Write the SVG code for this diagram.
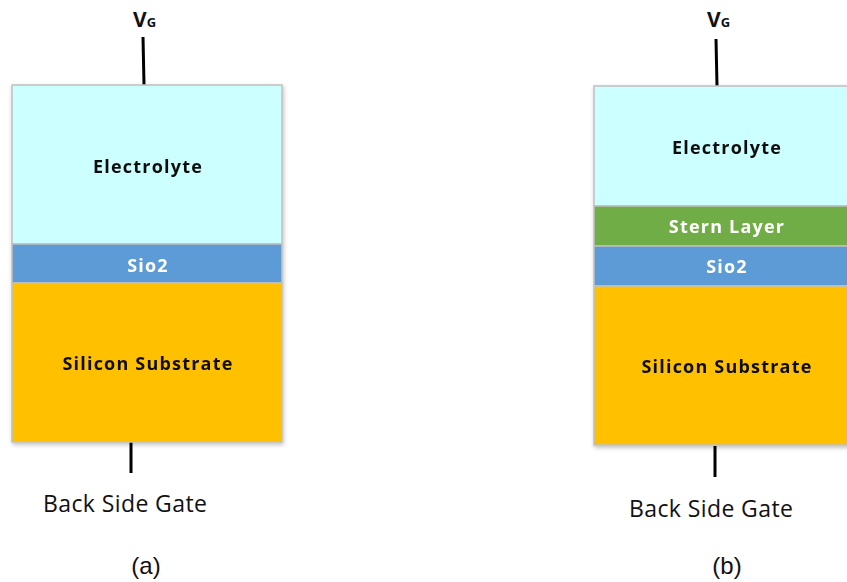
<svg xmlns="http://www.w3.org/2000/svg" width="847" height="582" viewBox="0 0 847 582">
<defs>
<filter id="sh" x="-5%" y="-5%" width="115%" height="115%">
<feDropShadow dx="1" dy="2" stdDeviation="2" flood-color="#000" flood-opacity="0.25"/>
</filter>
<style>
.lay{stroke:#C0C0C0;stroke-width:1.5}
.el{fill:#CCFFFF}
.si{fill:#5B9BD5}
.st{fill:#70AD47}
.sub{fill:#FFC000}
.lb{font-family:"Open Sans","Liberation Sans",sans-serif;font-weight:bold;font-size:18px;letter-spacing:1.2px;text-anchor:middle}
.dk{fill:#111}
.wh{fill:#fff}
.wire{stroke:#000;stroke-width:3}
.bsg{font-family:"Open Sans","Liberation Sans",sans-serif;font-size:23px;letter-spacing:0.4px;fill:#111}
.cap{font-family:"Liberation Sans",Arial,sans-serif;font-size:24px;fill:#111;text-anchor:middle}
.vg{font-family:"Open Sans","Liberation Sans",sans-serif;font-weight:bold;fill:#111}
</style>
</defs>
<g id="connectors">
<line class="wire" x1="143" y1="37" x2="144" y2="85"/>
<line class="wire" x1="131" y1="442" x2="131" y2="473"/>
<line class="wire" x1="716" y1="39" x2="717" y2="86"/>
<line class="wire" x1="715" y1="446" x2="715" y2="477"/>
</g>
<g id="diagram-a" filter="url(#sh)">
<g id="a-electrolyte"><rect class="lay el" x="12" y="85" width="270" height="159"/><text class="lb dk" x="148" y="173">Electrolyte</text></g>
<g id="a-sio2"><rect class="lay si" x="12" y="244" width="270" height="39"/><text class="lb wh" x="148" y="272">Sio2</text></g>
<g id="a-substrate"><rect class="lay sub" x="12" y="283" width="270" height="159"/><text class="lb dk" x="148" y="370">Silicon Substrate</text></g>
</g>
<g id="diagram-b" filter="url(#sh)">
<g id="b-electrolyte"><rect class="lay el" x="594" y="86" width="260" height="120"/><text class="lb dk" x="727" y="154">Electrolyte</text></g>
<g id="b-stern"><rect class="lay st" x="594" y="206" width="260" height="40"/><text class="lb wh" x="727" y="233">Stern Layer</text></g>
<g id="b-sio2"><rect class="lay si" x="594" y="246" width="260" height="40"/><text class="lb wh" x="727" y="273">Sio2</text></g>
<g id="b-substrate"><rect class="lay sub" x="594" y="286" width="260" height="159"/><text class="lb dk" x="727" y="373">Silicon Substrate</text></g>
</g>
<g id="labels">
<text class="vg" x="133" y="27" font-size="21">V<tspan font-size="13">G</tspan></text>
<text class="vg" x="707" y="27" font-size="21">V<tspan font-size="13">G</tspan></text>
<text class="bsg" x="43" y="512">Back Side Gate</text>
<text class="bsg" x="629" y="517">Back Side Gate</text>
<text class="cap" x="146" y="574">(a)</text>
<text class="cap" x="727" y="574">(b)</text>
</g>
</svg>
